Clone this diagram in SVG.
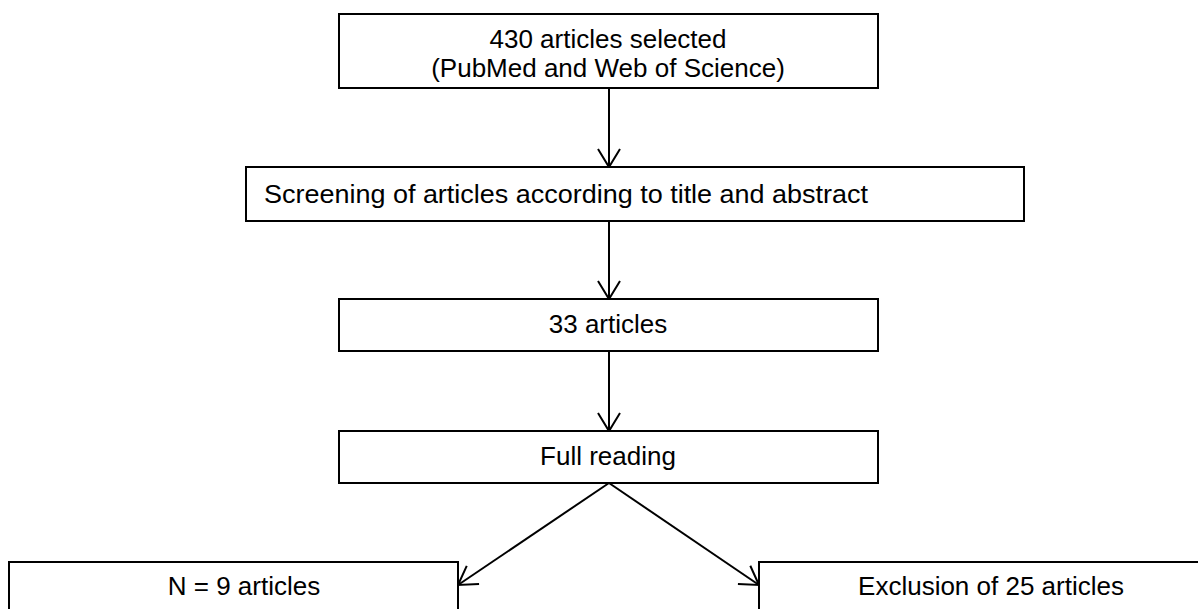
<svg xmlns="http://www.w3.org/2000/svg" width="1198" height="609" viewBox="0 0 1198 609">
<defs>
<style>
.box{fill:#fff;stroke:#000;stroke-width:2}
.t{font-family:"Liberation Sans",Arial,sans-serif;font-size:26px;fill:#000}
.c{text-anchor:middle}
.line{stroke:#000;stroke-width:2;fill:none;marker-end:url(#arr)}
</style>
<marker id="arr" markerUnits="userSpaceOnUse" viewBox="-20 -13 22 26" refX="0" refY="0" markerWidth="22" markerHeight="26" orient="auto" overflow="visible">
<path d="M-18,-11 L0,0 L-18,11" fill="none" stroke="#000" stroke-width="2"/>
</marker>
</defs>
<rect width="1198" height="609" fill="#fff"/>
<g id="connectors">
<line class="line" x1="609" y1="88" x2="609" y2="167"/>
<line class="line" x1="609" y1="221" x2="609" y2="299"/>
<line class="line" x1="609" y1="351" x2="609" y2="431"/>
<line class="line" x1="609" y1="483" x2="458" y2="585"/>
<line class="line" x1="609" y1="483" x2="759" y2="585"/>
</g>
<g id="n1">
<rect class="box" x="339" y="14" width="539" height="74"/>
<text class="t c" x="608" y="48">430 articles selected</text>
<text class="t c" x="608" y="77">(PubMed and Web of Science)</text>
</g>
<g id="n2">
<rect class="box" x="246" y="167" width="778" height="54"/>
<text class="t" x="264" y="203" textLength="604" lengthAdjust="spacingAndGlyphs">Screening of articles according to title and abstract</text>
</g>
<g id="n3">
<rect class="box" x="339" y="299" width="539" height="52"/>
<text class="t c" x="608" y="333">33 articles</text>
</g>
<g id="n4">
<rect class="box" x="339" y="431" width="539" height="52"/>
<text class="t c" x="608" y="465">Full reading</text>
</g>
<g id="n5">
<rect class="box" x="9" y="562" width="449" height="60"/>
<text class="t c" x="244" y="595">N = 9 articles</text>
</g>
<g id="n6">
<rect class="box" x="759" y="562" width="450" height="60"/>
<text class="t c" x="991" y="595">Exclusion of 25 articles</text>
</g>
</svg>
